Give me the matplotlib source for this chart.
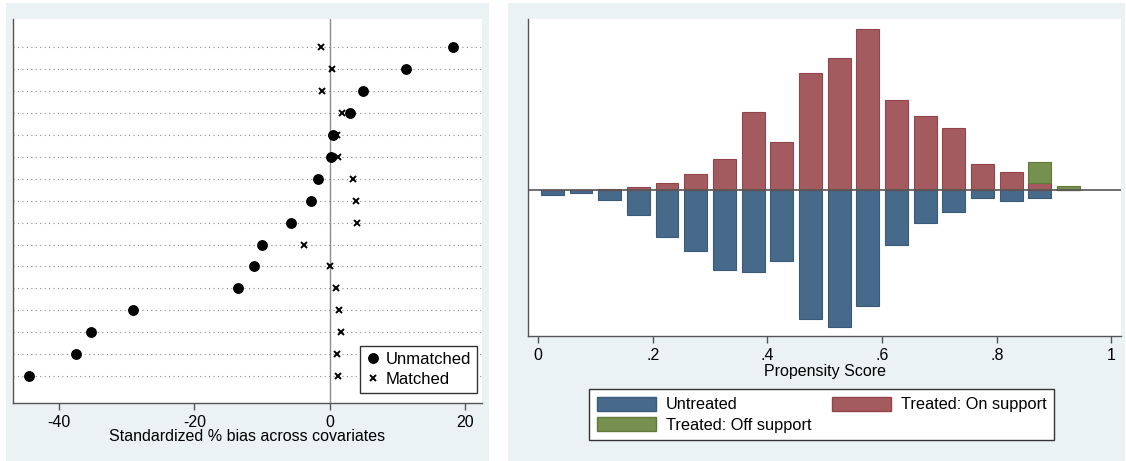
import matplotlib
matplotlib.use('Agg')
import matplotlib.pyplot as plt
from matplotlib.patches import Rectangle, Patch
from matplotlib.lines import Line2D

plt.rcParams['font.family'] = ['Liberation Sans', 'DejaVu Sans']
plt.rcParams['font.size'] = 11.5
plt.rcParams['axes.unicode_minus'] = False  # stata prints a plain hyphen

# left panel: standardized % bias per covariate, listed top to bottom
unmatched = [18.2, 11.2, 4.9, 2.9, 0.4, 0.2, -1.7, -2.8, -5.8, -10.0, -11.2, -13.5, -29.1, -35.3, -37.5, -44.4]
matched = [-1.3, 0.3, -1.1, 1.8, 1.0, 1.2, 3.4, 3.9, 4.0, -3.8, 0.0, 0.9, 1.4, 1.6, 1.0, 1.2]
bias_ticks = [-40, -20, 0, 20]

# right panel: propensity score histogram (bin centres, bar heights)
bin_centers = [0.025, 0.075, 0.125, 0.175, 0.225, 0.275, 0.325, 0.375, 0.425, 0.475,
               0.525, 0.575, 0.625, 0.675, 0.725, 0.775, 0.825, 0.875, 0.925]
untreated = [4.4, 2.4, 9.4, 24.7, 47.0, 61.0, 79.7, 81.7, 70.4, 128.4,
             136.4, 116.0, 55.0, 32.7, 21.7, 7.4, 10.7, 7.4, 0.0]
treated_on = [0.0, 0.0, 1.6, 3.0, 7.6, 16.6, 31.6, 78.6, 48.6, 117.0,
              132.0, 161.0, 90.0, 74.6, 62.0, 26.0, 18.3, 7.3, 0.0]
treated_off = [0.0, 0.0, 0.0, 0.0, 0.0, 0.0, 0.0, 0.0, 0.0, 0.0,
               0.0, 0.0, 0.0, 0.0, 0.0, 0.0, 0.0, 21.3, 4.6]
ps_ticks = [0, 0.2, 0.4, 0.6, 0.8, 1.0]
ps_ticklabels = ['0', '.2', '.4', '.6', '.8', '1']

W, H = 1126, 461
bg = '#eaf2f3'
blue, red, green = '#486a8a', '#a45b5f', '#76904f'

fig = plt.figure(figsize=(W / 100, H / 100), dpi=100)
# stata-style grey-blue panel backgrounds, kept behind the axes
fig.patches.append(Rectangle((6 / W, 0), (489 - 6) / W, 1 - 2.7 / H, transform=fig.transFigure,
                             facecolor=bg, edgecolor='none', zorder=-10))
fig.patches.append(Rectangle((507.7 / W, 0), (1125 - 507.7) / W, 1 - 3.3 / H, transform=fig.transFigure,
                             facecolor=bg, edgecolor='none', zorder=-10))

def fx(px):
    return px / W

def fy(py):
    return 1 - py / H

# ---- left panel
ax1 = fig.add_axes([fx(12.7), fy(402.7), fx(481.7 - 12.7), (402.7 - 19.3) / H])
n = len(unmatched)
ypos = [n - i for i in range(n)]
for y in ypos:
    ax1.axhline(y, color='#8a8a8a', lw=0.8, ls=(0, (1, 3)), zorder=1)
ax1.axvline(0, color='#8c8c8c', lw=1.0, zorder=1)
ax1.plot(unmatched, ypos, 'o', color='black', ms=6.8, ls='none', zorder=3, label='Unmatched')
ax1.plot(matched, ypos, 'x', color='black', ms=4, mew=1.4, ls='none', zorder=3, label='Matched')
ax1.set_xlim(-46.8, 22.4)
ax1.set_ylim(-0.2, 17.25)
ax1.set_xticks(bias_ticks)
ax1.set_yticks([])
ax1.set_xlabel('Standardized % bias across covariates')
ax1.xaxis.label.set_va('center')
ax1.xaxis.set_label_coords(0.5, -(436.7 - 402.7) / (402.7 - 19.3))

# ---- right panel
ax2 = fig.add_axes([fx(528), fy(336), fx(1121 - 528), (336 - 19.3) / H])
neg_untreated = [-v for v in untreated]
ax2.bar(bin_centers, neg_untreated, width=0.04, color=blue, edgecolor='#3a5a7a', lw=0.8, zorder=2)
ax2.bar(bin_centers, treated_on, width=0.04, color=red, edgecolor='#93444b', lw=0.8, zorder=2)
# only bins that actually have off-support treated units
off_idx = [i for i, v in enumerate(treated_off) if v > 0]
ax2.bar([bin_centers[i] for i in off_idx], [treated_off[i] for i in off_idx], width=0.04,
        bottom=[treated_on[i] for i in off_idx], color=green, edgecolor='#5f7a3a', lw=0.8, zorder=2)
ax2.axhline(0, color='#555555', lw=1.2, zorder=3)
ax2.set_xlim(-0.0174, 1.0166)
ax2.set_ylim(-145.7, 171)
ax2.set_xticks(ps_ticks)
ax2.set_xticklabels(ps_ticklabels)
ax2.set_yticks([])
ax2.set_xlabel('Propensity Score')
ax2.xaxis.label.set_va('center')
ax2.xaxis.set_label_coords(0.5, -(371.7 - 336) / (336 - 19.3))

for ax in (ax1, ax2):
    ax.set_facecolor('white')
    ax.spines['top'].set_visible(False)
    ax.spines['right'].set_visible(False)
    for s in ('left', 'bottom'):
        ax.spines[s].set_color('#555555')
        ax.spines[s].set_linewidth(1.0)
    ax.tick_params(axis='x', direction='out', length=5, width=1, color='#555555', pad=3.5)

# legends
leg1 = fig.legend(handles=[Line2D([], [], marker='o', color='black', ms=6.8, ls='none'),
                           Line2D([], [], marker='x', color='black', ms=4, mew=1.4, ls='none')],
                  labels=['Unmatched', 'Matched'], loc='upper left',
                  bbox_to_anchor=(fx(360), fy(346)), borderaxespad=0, fancybox=False,
                  edgecolor='#333333', framealpha=1, handlelength=0.8, handletextpad=0.4,
                  labelspacing=0.3, borderpad=0.35, fontsize=12)
leg1.get_frame().set_linewidth(1.0)

leg2 = fig.legend(handles=[Patch(facecolor=blue, edgecolor='#3a5a7a'),
                           Patch(facecolor=green, edgecolor='#5f7a3a'),
                           Patch(facecolor=red, edgecolor='#93444b')],
                  labels=['Untreated', 'Treated: Off support', 'Treated: On support'],
                  ncol=2, loc='upper left', bbox_to_anchor=(fx(589.4), fy(389.3)),
                  borderaxespad=0, fancybox=False, edgecolor='#333333', framealpha=1,
                  handlelength=3.6, handleheight=0.95, handletextpad=0.6, fontsize=11.8,
                  columnspacing=1.3, labelspacing=0.3, borderpad=0.45)
leg2.get_frame().set_linewidth(1.0)

fig.savefig('out.png', dpi=100, facecolor='white')
